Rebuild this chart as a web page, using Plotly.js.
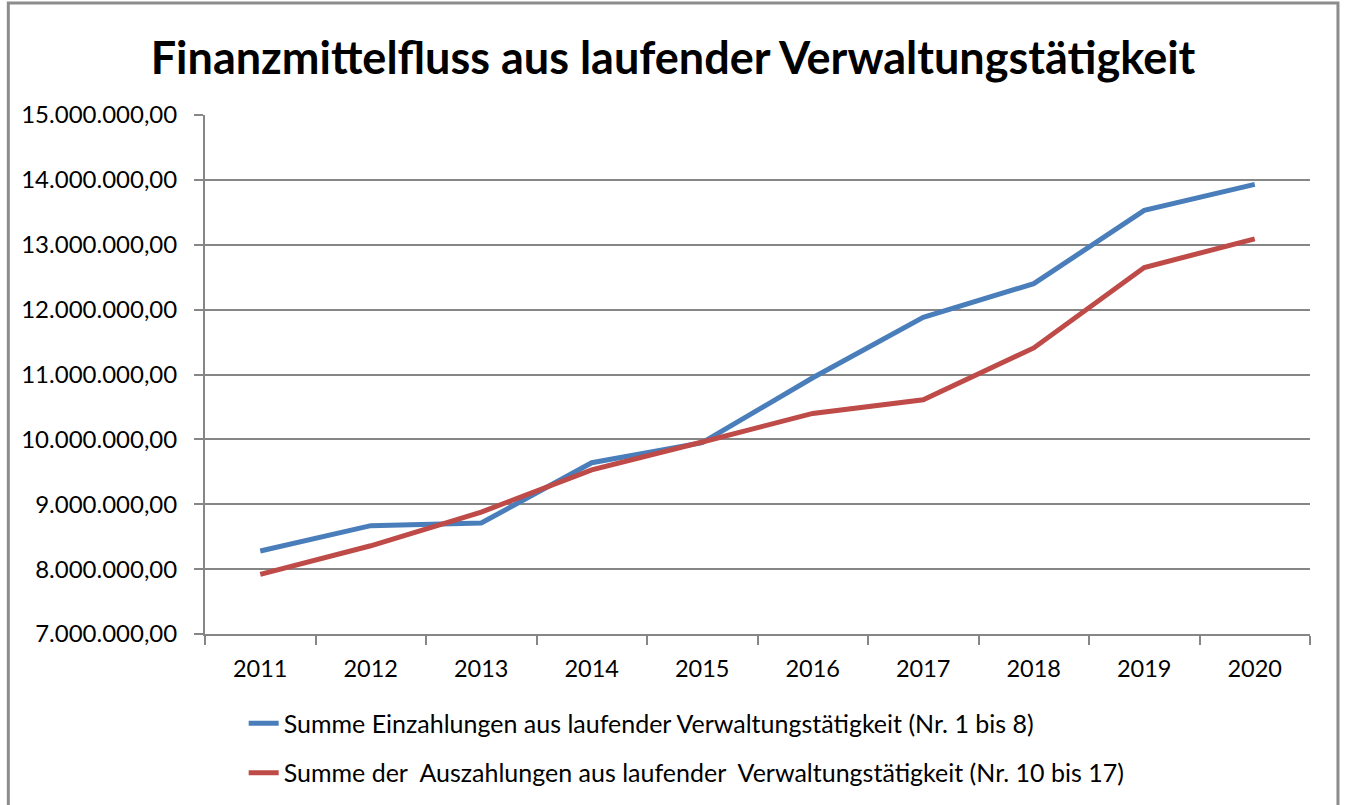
<!DOCTYPE html>
<html>
<head>
<meta charset="utf-8">
<script src="https://cdn.plot.ly/plotly-3.0.1.min.js"></script>
<style>html,body{margin:0;padding:0;background:#fff;}#chart{width:1346px;height:805px;}</style>
</head>
<body>
<div id="chart"></div>
<script>
const years = ['2011','2012','2013','2014','2015','2016','2017','2018','2019','2020'];
const einzahlungen = [8280000, 8670000, 8710000, 9640000, 9950000, 10950000, 11880000, 12400000, 13530000, 13930000];
const auszahlungen = [7920000, 8360000, 8880000, 9530000, 9960000, 10400000, 10610000, 11410000, 12650000, 13090000];
const nameEin = 'Summe Einzahlungen aus laufender Verwaltungstätigkeit (Nr. 1 bis 8)';
const nameAus = 'Summe der&nbsp; Auszahlungen aus laufender&nbsp; Verwaltungstätigkeit (Nr. 10 bis 17)';
const titleText = 'Finanzmittelfluss aus laufender Verwaltungstätigkeit';

const font = 'Lato, "Noto Sans", sans-serif';
const traces = [
  {x: years, y: einzahlungen, type: 'scatter', mode: 'lines', name: nameEin, legendgroup: 'a',
   line: {color: '#4A7EBB', width: 5}},
  {x: years, y: auszahlungen, type: 'scatter', mode: 'lines', name: nameAus, legendgroup: 'b',
   line: {color: '#BE4B48', width: 5}}
];
const layout = {
  width: 1346, height: 805,
  margin: {l: 205, r: 36, t: 115, b: 171, autoexpand: false},
  separators: ',.',
  paper_bgcolor: '#fff', plot_bgcolor: '#fff',
  font: {family: font, color: '#000', size: 24},
  title: {text: titleText, font: {family: font, size: 45, color: '#000', weight: 'bold'},
          x: 0.5, xanchor: 'center', y: 1 - 58/805, yanchor: 'middle'},
  xaxis: {type: 'category', range: [-0.5, 9.5], tickson: 'boundaries', ticks: 'outside', ticklen: 9,
          tickcolor: '#868686', tickwidth: 2, showline: true, linecolor: '#868686', linewidth: 2,
          showgrid: false, zeroline: false, tickfont: {size: 23.5}, ticklabelstandoff: 13, tickangle: 0},
  yaxis: {range: [7000000, 15000000], dtick: 1000000, tick0: 7000000, tickformat: ',.2f',
          ticks: 'outside', ticklen: 9, tickcolor: '#868686', tickwidth: 2,
          showline: true, linecolor: '#868686', linewidth: 2,
          showgrid: true, gridcolor: '#868686', gridwidth: 2, zeroline: false,
          tickfont: {size: 24}, ticklabelstandoff: 12},
  showlegend: true,
  legend: {orientation: 'v', x: 0.035, xanchor: 'left', y: -0.128, yanchor: 'top',
           tracegroupgap: 14, traceorder: 'grouped', font: {size: 25}, bgcolor: 'rgba(0,0,0,0)'},
  shapes: [{type: 'rect', xref: 'paper', yref: 'paper', x0: -0.178, x1: 1.0253, y0: -0.4, y1: 1.2158,
            line: {color: '#8c8c8c', width: 3}, layer: 'below'}]
};
Plotly.newPlot('chart', traces, layout, {displayModeBar: false, staticPlot: true});
</script>
</body>
</html>
